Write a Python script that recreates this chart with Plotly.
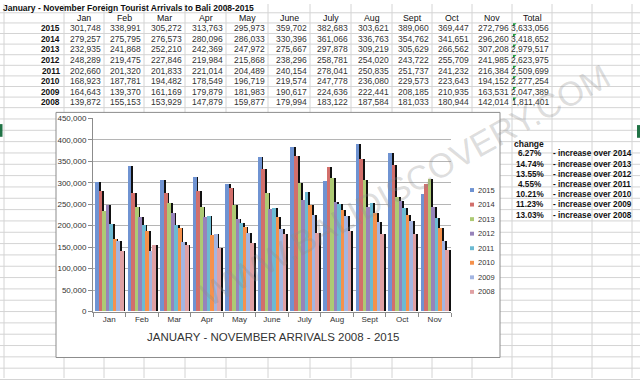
import plotly.graph_objects as go

# ---------------- data ----------------
months = ["Jan", "Feb", "Mar", "Apr", "May", "June", "July", "Aug", "Sept", "Oct", "Nov"]
years = ["2015", "2014", "2013", "2012", "2011", "2010", "2009", "2008"]
v2015 = [301748, 338991, 305272, 313763, 295973, 359702, 382683, 303621, 389060, 369447, 272796]
v2014 = [279257, 275795, 276573, 280096, 286033, 330396, 361066, 336763, 354762, 341651, 296260]
v2013 = [232935, 241868, 252210, 242369, 247972, 275667, 297878, 309219, 305629, 266562, 307208]
v2012 = [248289, 219475, 227846, 219984, 215868, 238296, 258781, 254020, 243722, 255709, 241985]
v2011 = [202660, 201320, 201833, 221014, 204489, 240154, 278041, 250835, 251737, 241232, 216384]
v2010 = [168923, 187781, 194482, 178549, 196719, 219574, 247778, 236080, 229573, 223643, 194152]
v2009 = [164643, 139370, 161169, 179879, 181983, 190617, 224636, 222441, 208185, 210935, 163531]
v2008 = [139872, 155153, 153929, 147879, 159877, 179994, 183122, 187584, 181033, 180944, 142014]
totals = ["3,633,056", "3,418,652", "2,979,517", "2,623,975", "2,509,699",
          "2,277,254", "2,047,389", "1,811,401"]
change_pct = ["6.27%", "14.74%", "13.55%", "4.55%", "10.21%", "11.23%", "13.03%"]
change_txt = ["- increase over 2014", "- increase over 2013", "- increase over 2012",
              "- increase over 2011", "- increase over 2010", "- increase over 2009",
              "- increase over 2008"]
series = [v2015, v2014, v2013, v2012, v2011, v2010, v2009, v2008]
colors = ["#6F93D2", "#D26F6B", "#ADCA74", "#9783BA", "#6CBAD2", "#F5914C", "#A3B5E1", "#E0A0A3"]

title = "January - November Foreign Tourist Arrivals to Bali 2008-2015"
chart_title = "JANUARY - NOVEMBER ARRIVALS 2008 - 2015"
watermark = "WWW.BALIDISCOVERY.COM"

W, H = 640, 383
def X(px): return px / W
def Y(py): return 1 - py / H

FONT = "Liberation Sans, Arial, sans-serif"
GRID = "#D4D4D4"

fig = go.Figure()

# ---------------- bars (shadow + colour) ----------------
step = 0.108
bw = 0.114
start = -0.432
for i, (yr, vals, col) in enumerate(zip(years, series, colors)):
    off = start + i * step
    fig.add_trace(go.Bar(x=months, y=vals, offset=off + 0.055, width=bw,
                         marker=dict(color="#111111", line=dict(width=0)),
                         showlegend=False, hoverinfo="skip"))
    fig.add_trace(go.Bar(x=months, y=vals, offset=off, width=bw, name=yr,
                         marker=dict(color=col, line=dict(width=0)),
                         showlegend=False))

shapes = []
ann = []

# ---------------- spreadsheet grid ----------------
cols = [4, 64, 104, 144, 185, 226, 268, 310, 351, 392, 432, 472, 512, 552, 592, 632]
for cx in cols:
    shapes.append(dict(type="line", xref="paper", yref="paper", x0=X(cx), x1=X(cx),
                       y0=0, y1=1, line=dict(color=GRID, width=1), layer="below"))
row_c = [4, 14] + [24.8 + 10.85 * i for i in range(8)]
edges = [9] + [(row_c[i] + row_c[i + 1]) / 2 for i in range(1, len(row_c) - 1)] + [row_c[-1] + 5.4]
e = edges[-1]
while e < H:
    e += 11.6
    edges.append(e)
for ey in edges:
    shapes.append(dict(type="line", xref="paper", yref="paper", x0=0, x1=1,
                       y0=Y(ey), y1=Y(ey), line=dict(color=GRID, width=1), layer="below"))

# chart box
shapes.append(dict(type="rect", xref="paper", yref="paper", x0=X(56), x1=X(500),
                   y0=Y(362), y1=Y(111), fillcolor="white",
                   line=dict(color="#8C8C8C", width=1), layer="below"))

# green selection marks
shapes.append(dict(type="rect", xref="paper", yref="paper", x0=0, x1=X(2.5),
                   y0=Y(136), y1=Y(123), fillcolor="#217346", line=dict(width=0), layer="below"))
shapes.append(dict(type="rect", xref="paper", yref="paper", x0=X(637), x1=1,
                   y0=Y(137), y1=Y(124), fillcolor="#217346", line=dict(width=0), layer="below"))

# ---------------- table text ----------------
ann.append(dict(text="<b>" + title + "</b>", x=X(1), y=Y(row_c[0]), xanchor="left",
                yanchor="middle", font=dict(size=8.5, color="#111", family=FONT)))
for j, m in enumerate(months + ["Total"]):
    cx = (cols[j + 1] + cols[j + 2]) / 2
    ann.append(dict(text=m, x=X(cx), y=Y(row_c[1]), xanchor="center", yanchor="middle",
                    font=dict(size=8.8, color="#111", family=FONT)))
for i, yr in enumerate(years):
    yy = Y(row_c[2 + i])
    ann.append(dict(text="<b>" + yr + "</b>", x=X(62), y=yy, xanchor="right", yanchor="middle",
                    font=dict(size=8.3, color="#111", family=FONT)))
    for j in range(len(months)):
        ann.append(dict(text=f"{series[i][j]:,}", x=X(cols[j + 2] - 1.5), y=yy,
                        xanchor="right", yanchor="middle",
                        font=dict(size=8.5, color="#333", family=FONT)))
    ann.append(dict(text=totals[i], x=X(cols[13] - 1.5), y=yy, xanchor="right",
                    yanchor="middle", font=dict(size=8.5, color="#333", family=FONT)))
    shapes.append(dict(type="path", xref="paper", yref="paper",
                       path=f"M {X(513)} {Y(row_c[2+i]-5)} L {X(516.5)} {Y(row_c[2+i]-5)} L {X(513)} {Y(row_c[2+i]-1.5)} Z",
                       fillcolor="#1E9E3E", line=dict(width=0)))

# change table
ch_y0 = 143
ann.append(dict(text="<b>change</b>", x=X(529), y=Y(ch_y0), xanchor="center", yanchor="middle",
                font=dict(size=8.5, color="#111", family=FONT)))
for i, (p, t) in enumerate(zip(change_pct, change_txt)):
    yy = Y(ch_y0 + 10.45 * (i + 1))
    ann.append(dict(text="<b>" + p + "</b>", x=X(530), y=yy, xanchor="center", yanchor="middle",
                    font=dict(size=8.2, color="#111", family=FONT)))
    ann.append(dict(text="<b>" + t + "</b>", x=X(551), y=yy, xanchor="left", yanchor="middle",
                    font=dict(size=8.2, color="#111", family=FONT)))

# ---------------- legend (manual) ----------------
for i, (yr, col) in enumerate(zip(years, colors)):
    ly = 190.5 + 14.9 * i
    shapes.append(dict(type="rect", xref="paper", yref="paper", x0=X(470), x1=X(474),
                       y0=Y(ly + 2), y1=Y(ly - 2), fillcolor=col, line=dict(width=0)))
    ann.append(dict(text=yr, x=X(476), y=Y(ly), xanchor="left", yanchor="middle",
                    font=dict(size=7.5, color="#333", family=FONT)))

# chart title
ann.append(dict(text=chart_title, x=X(273), y=Y(341), xanchor="center", yanchor="middle",
                font=dict(size=11.5, color="#333", family=FONT)))

# watermark
ann.append(dict(text=watermark, x=X(405), y=Y(185), xanchor="center", yanchor="middle",
                textangle=-29, font=dict(size=34, color="rgba(140,140,140,0.3)", family=FONT)))

for a in ann:
    a.setdefault("xref", "paper")
    a.setdefault("yref", "paper")
    a.setdefault("showarrow", False)

fig.update_layout(
    width=W, height=H, autosize=False,
    margin=dict(l=0, r=0, t=0, b=0),
    paper_bgcolor="white", plot_bgcolor="rgba(0,0,0,0)",
    barmode="overlay", bargap=0,
    shapes=shapes, annotations=ann, showlegend=False,
    font=dict(family=FONT, size=8, color="#333"),
    xaxis=dict(domain=[X(93), X(451)], range=[-0.5, 10.5], showgrid=False,
               showline=True, linecolor="#8C8C8C", linewidth=1,
               ticks="outside", tickson="boundaries", ticklen=4, tickcolor="#8C8C8C",
               tickfont=dict(size=8, color="#333"), fixedrange=True),
    yaxis=dict(domain=[Y(315), Y(117)], range=[0, 450000], dtick=50000,
               tickformat=",", showgrid=True, gridcolor="#B5B5B5", gridwidth=1,
               showline=True, linecolor="#8C8C8C", linewidth=1, zeroline=False,
               ticks="outside", ticklen=4, tickcolor="#8C8C8C",
               tickfont=dict(size=8, color="#333"), fixedrange=True),
)

fig.write_html("out.html", config={"displayModeBar": False},
               post_script="document.body.style.margin='0';document.body.style.padding='0';document.body.style.overflow='hidden';")
